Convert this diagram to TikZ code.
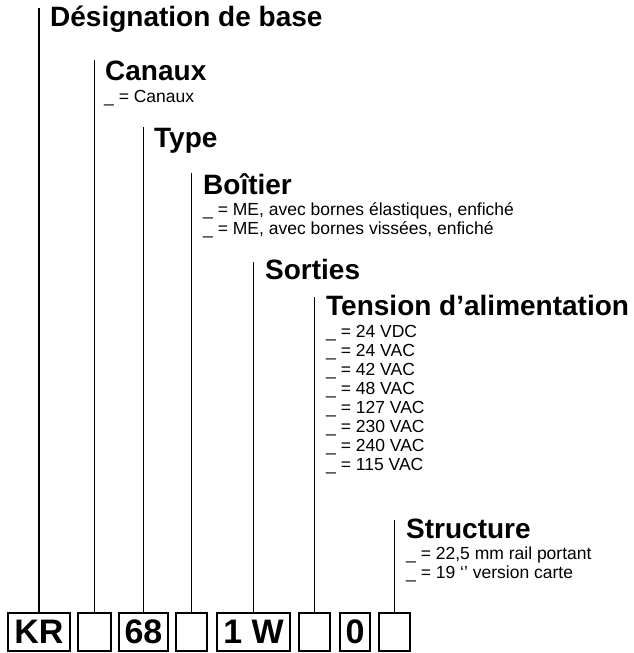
\documentclass[tikz,border=0pt]{standalone}
\usepackage{fontspec}
\setmainfont{Liberation Sans}
\usetikzlibrary{positioning}

\tikzset{
  titre/.style={anchor=base west, inner sep=0pt, font=\bfseries\fontsize{28}{28}\selectfont},
  choix/.style={anchor=base west, inner sep=0pt, font=\fontsize{17.5}{17.5}\selectfont},
  case/.style={draw, line width=1.5pt, minimum height=38pt, inner sep=0pt, font=\bfseries\fontsize{34}{34}\selectfont},
  renvoi/.style={line width=1.5pt}
}

\begin{document}
\begin{tikzpicture}[x=1pt,y=-1pt]
		\useasboundingbox (0,0) rectangle (633,653);
		% cases de la reference
		\node[case, minimum width=62pt] (kr) at (39,632) {KR};
		\node[case, minimum width=33pt] (c2) at (94.5,632) {};
		\node[case, minimum width=49pt] (c3) at (143.5,632) {68};
		\node[case, minimum width=31pt] (c4) at (191.5,632) {};
		\node[case, minimum width=73pt] (c5) at (253.5,632) {1 W};
		\node[case, minimum width=31pt] (c6) at (314.5,632) {};
		\node[case, minimum width=30pt] (c7) at (355,632) {0};
		\node[case, minimum width=31pt] (c8) at (394.5,632) {};
		% hauts des traits
		\coordinate (h1) at (39,8);
		\coordinate (h2) at (94.5,60);
		\coordinate (h3) at (143.5,127);
		\coordinate (h4) at (191.5,173);
		\coordinate (h5) at (253.5,262);
		\coordinate (h6) at (314.5,297);
		\coordinate (h8) at (394.5,520);
		\foreach \c/\h in {kr/h1,c2/h2,c3/h3,c4/h4,c5/h5,c6/h6,c8/h8}
		\draw[renvoi] (\c) -- (\h);
		% titres et choix
		\node[titre] (base) at (50,27) {Désignation de base};
		\node[titre] (canaux) at (105,80) {Canaux};
		\node[choix] (canaux1) at (104,102) {\_ = Canaux};
		\node[titre] (type) at (154,147) {Type};
		\node[titre] (boitier) at (203,194) {Boîtier};
		\node[choix] (boitier1) at (203,215) {\_ = ME, avec bornes élastiques, enfiché};
		\node[choix] (boitier2) at (203,234) {\_ = ME, avec bornes vissées, enfiché};
		\node[titre] (sorties) at (265,279) {Sorties};
		\node[titre] (tension) at (326,315) {Tension d’alimentation};
		\foreach \t [count=\i from 0] in {24 VDC,24 VAC,42 VAC,48 VAC,127 VAC,230 VAC,240 VAC,115 VAC}
		\node[choix] (tension\i) at (326,337+19.1*\i) {\_ = \t};
		\node[titre] (structure) at (406,538) {Structure};
		\node[choix] (structure1) at (406,559) {\_ = 22,5 mm rail portant};
		\node[choix] (structure2) at (406,578) {\_ = 19 ‘’ version carte};
\end{tikzpicture}
\end{document}
